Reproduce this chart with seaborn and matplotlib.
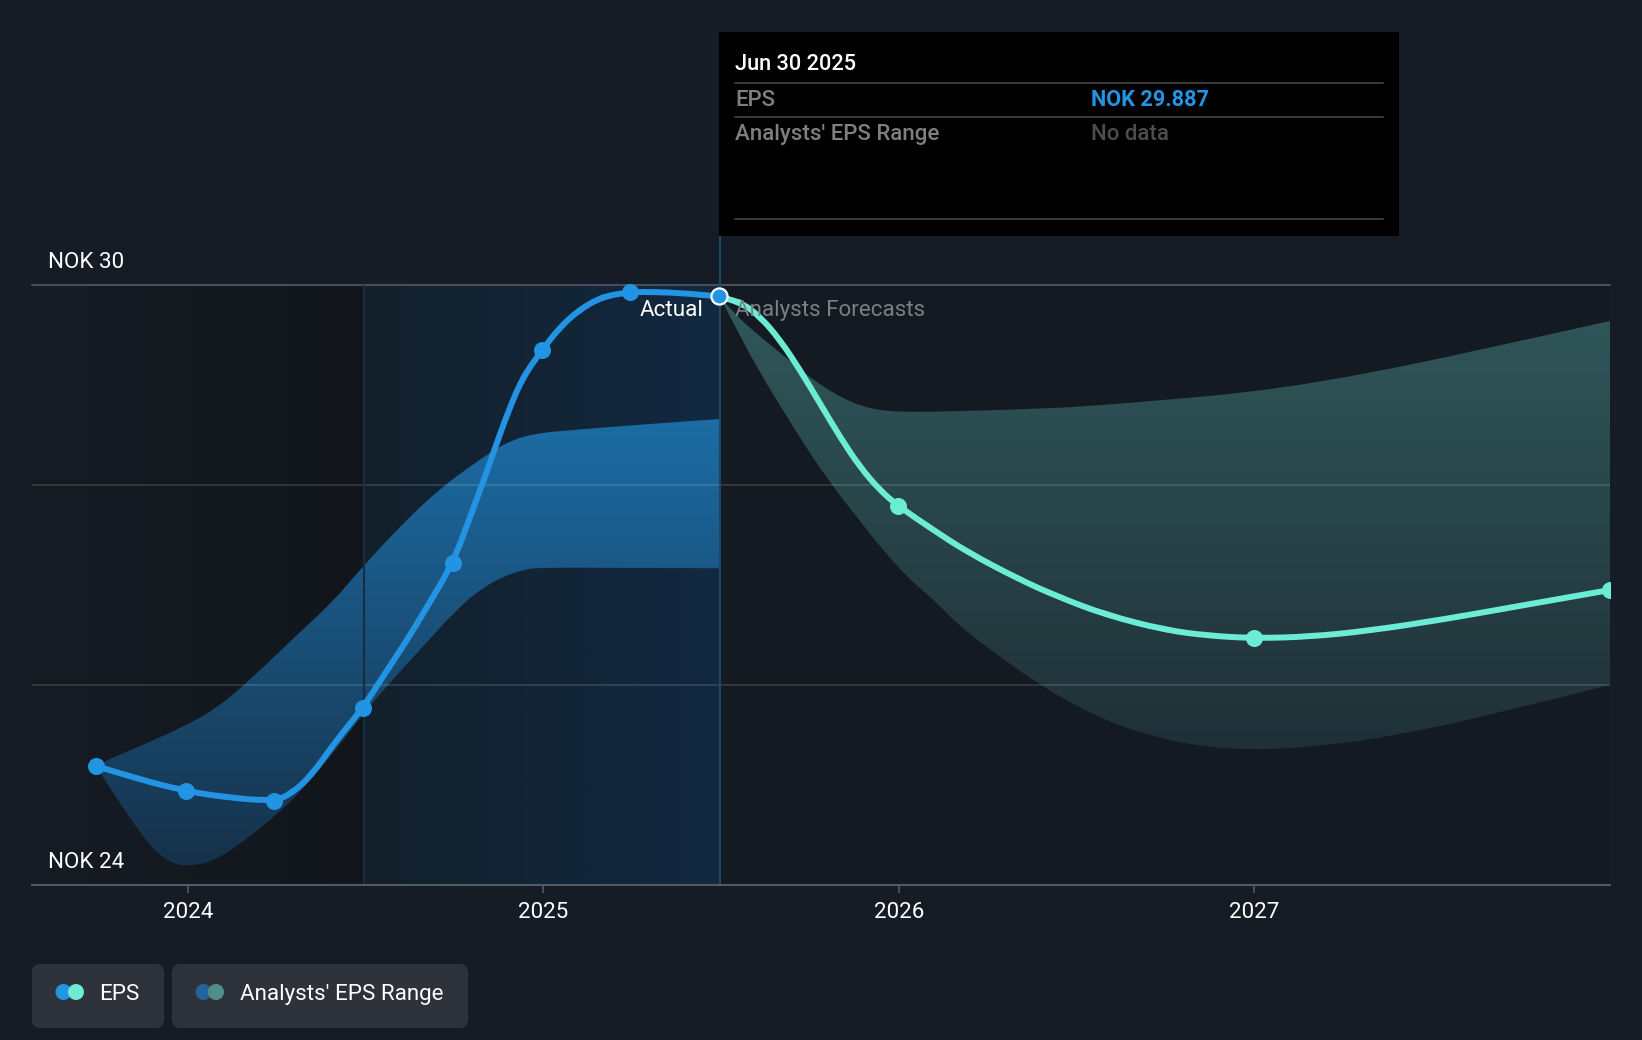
import numpy as np
import matplotlib
matplotlib.use('Agg')
import matplotlib.pyplot as plt
import matplotlib.colors as mcolors
from matplotlib.path import Path
from matplotlib.patches import Rectangle, Circle, FancyBboxPatch, PathPatch
import seaborn as sns

# values (decimal year, NOK)
past_years = [2023.742, 2023.863, 2023.994, 2024.106, 2024.243, 2024.293, 2024.349, 2024.415, 2024.493,
              2024.555, 2024.611, 2024.668, 2024.746, 2024.798, 2024.836, 2024.864, 2024.901, 2024.943,
              2024.997, 2025.044, 2025.100, 2025.166, 2025.244, 2025.316, 2025.400, 2025.493]
past_eps = [25.19, 25.057, 24.94, 24.877, 24.837, 24.917, 25.10, 25.433, 25.773,
            26.117, 26.417, 26.75, 27.22, 27.717, 28.083, 28.367, 28.733, 29.083,
            29.35, 29.567, 29.75, 29.883, 29.93, 29.93, 29.917, 29.887]

future_years = [2025.493, 2025.554, 2025.610, 2025.666, 2025.722, 2025.778, 2025.834, 2025.890, 2025.946,
                2025.997, 2026.097, 2026.191, 2026.332, 2026.447, 2026.583, 2026.748, 2026.870, 2027.0,
                2027.156, 2027.323, 2027.534, 2027.760, 2028.0]
future_eps = [29.887, 29.833, 29.683, 29.45, 29.15, 28.817, 28.483, 28.183, 27.95,
              27.793, 27.55, 27.333, 27.067, 26.883, 26.70, 26.55, 26.493, 26.467,
              26.483, 26.543, 26.657, 26.80, 26.95]

past_marker_years = [2023.742, 2023.994, 2024.243, 2024.493, 2024.746, 2024.997, 2025.244]
past_marker_eps = [25.19, 24.94, 24.837, 25.773, 27.22, 29.35, 29.93]
future_marker_years = [2025.997, 2027.0, 2028.0]
future_marker_eps = [27.793, 26.467, 26.95]
last_year = 2025.493
last_eps = 29.887

past_high_years = [2023.742, 2023.762, 2023.885, 2023.997, 2024.081, 2024.175, 2024.295, 2024.413, 2024.478,
                   2024.614, 2024.716, 2024.80, 2024.862, 2024.913, 2024.979, 2025.083, 2025.224, 2025.365, 2025.496]
past_high = [25.19, 25.233, 25.417, 25.60, 25.767, 26.05, 26.46, 26.85, 27.13,
             27.65, 27.983, 28.20, 28.35, 28.45, 28.517, 28.55, 28.59, 28.627, 28.66]
past_low_years = [2023.742, 2023.790, 2023.847, 2023.903, 2023.959, 2023.997, 2024.063, 2024.137, 2024.222,
                  2024.295, 2024.362, 2024.427, 2024.493, 2024.568, 2024.660, 2024.755, 2024.820, 2024.885,
                  2024.951, 2024.997, 2025.178, 2025.496]
past_low = [25.19, 24.92, 24.62, 24.35, 24.21, 24.19, 24.223, 24.383, 24.62,
            24.85, 25.12, 25.40, 25.71, 26.02, 26.38, 26.75, 26.95, 27.083,
            27.16, 27.173, 27.173, 27.167]

future_high_years = [2025.496, 2025.534, 2025.610, 2025.674, 2025.730, 2025.787, 2025.843, 2025.899, 2025.965,
                     2026.050, 2026.191, 2026.368, 2026.515, 2026.745, 2026.976, 2027.205, 2027.436, 2027.666, 2028.0]
future_high = [29.887, 29.72, 29.483, 29.30, 29.133, 28.983, 28.867, 28.783, 28.737,
               28.73, 28.74, 28.76, 28.783, 28.85, 28.923, 29.043, 29.20, 29.377, 29.64]
future_low_years = [2025.496, 2025.534, 2025.610, 2025.685, 2025.750, 2025.815, 2025.881, 2025.946, 2026.025,
                    2026.099, 2026.172, 2026.284, 2026.397, 2026.510, 2026.622, 2026.735, 2026.847, 2026.978,
                    2027.156, 2027.384, 2027.685, 2028.0]
future_low = [29.887, 29.62, 29.117, 28.683, 28.317, 27.983, 27.683, 27.39, 27.07,
              26.85, 26.583, 26.283, 26.0, 25.767, 25.59, 25.467, 25.39, 25.35,
              25.377, 25.483, 25.717, 26.0]

year_ticks = [2024, 2025, 2026, 2027]
grid_values = [26, 28]
y_min, y_max = 24, 30

BG = '#151c25'
BLUE = '#2394e3'
TEAL = '#6cebd5'
WIDTH, HEIGHT = 1642, 1040
FS = 16.1

sns.set_theme(style='dark')
plt.rcParams['font.family'] = ['Roboto', 'DejaVu Sans']

fig = plt.figure(figsize=(WIDTH / 100, HEIGHT / 100), dpi=100, facecolor=BG)
ax = fig.add_axes([32 / WIDTH, 1 - 885 / HEIGHT, (1610 - 32) / WIDTH, 600 / HEIGHT])
ax.set_facecolor('#141a22')
x_lim = (2023.562, 2028.0)


def gradient(c1, c2, horizontal=True, n=256):
    # RGB ramp for imshow
    a, b = np.array(mcolors.to_rgb(c1)), np.array(mcolors.to_rgb(c2))
    t = np.linspace(0, 1, n)[:, None]
    ramp = a + (b - a) * t
    return ramp[None, :, :] if horizontal else ramp[:, None, :]


def curve_segments(xs, ys):
    # the read points act as quadratic bezier controls, so the stroke bends instead of kinking
    pts = np.column_stack([xs, ys])
    verts, codes = [], []
    for i in range(1, len(pts) - 1):
        end = (pts[i] + pts[i + 1]) / 2 if i < len(pts) - 2 else pts[i + 1]
        verts += [pts[i], end]
        codes += [Path.CURVE3, Path.CURVE3]
    return pts[0], verts, codes


def curve_path(xs, ys):
    start, verts, codes = curve_segments(xs, ys)
    return Path([start] + verts, [Path.MOVETO] + codes)


def band_path(high_x, high_y, low_x, low_y):
    s1, v1, c1 = curve_segments(high_x, high_y)
    s2, v2, c2 = curve_segments(low_x[::-1], low_y[::-1])
    verts = [s1] + v1 + [s2] + v2 + [s1]
    codes = [Path.MOVETO] + c1 + [Path.LINETO] + c2 + [Path.CLOSEPOLY]
    return Path(verts, codes)


def faded_band(path, top, bottom, y_top, y_bottom):
    clip = PathPatch(path, transform=ax.transData, facecolor='none', edgecolor='none')
    ax.add_patch(clip)
    im = ax.imshow(gradient(top, bottom, horizontal=False),
                   extent=[x_lim[0], x_lim[1], y_bottom, y_top], aspect='auto', zorder=1)
    im.set_clip_path(clip)


# shaded periods behind the data
ax.imshow(gradient('#161c24', '#12161c'), extent=[x_lim[0], 2024.496, y_min, y_max], aspect='auto', zorder=0)
ax.imshow(gradient('#12202b', '#122941'), extent=[2024.496, 2025.496, y_min, y_max], aspect='auto', zorder=0)

# range bands with a vertical fade
faded_band(band_path(past_high_years, past_high, past_low_years, past_low), '#1c6da6', '#163149', 28.7, 24.15)
faded_band(band_path(future_high_years, future_high, future_low_years, future_low), '#30585a', '#1f3037', 29.9, 25.3)

# grid lines sit over the bands
for v in grid_values:
    ax.axhline(v, color='white', alpha=0.13, lw=1.4, zorder=2)
ax.axhline(y_max, color='#4a4f57', lw=1.5, zorder=2, clip_on=False)

ax.plot([2024.496, 2024.496], [y_min, y_max], color='#182d3f', lw=1.5, zorder=2)
ax.plot([2025.496, 2025.496], [y_min, y_max + 0.495], color='#1e4766', lw=1.5, zorder=2, clip_on=False)

sns.lineplot(x=past_years, y=past_eps, ax=ax, color=BLUE, lw=3.0, sort=False, estimator=None, errorbar=None, zorder=3)
sns.lineplot(x=future_years, y=future_eps, ax=ax, color=TEAL, lw=3.0, sort=False, estimator=None, errorbar=None, zorder=3)
# rounded stroke on top of the seaborn lines
for xs, ys, col in [(past_years, past_eps, BLUE), (future_years, future_eps, TEAL)]:
    ax.add_patch(PathPatch(curve_path(xs, ys), facecolor='none', edgecolor=col, lw=4.3, zorder=3, capstyle='round'))

sns.scatterplot(x=past_marker_years, y=past_marker_eps, ax=ax, color=BLUE, s=150, linewidth=0, zorder=4, clip_on=False)
sns.scatterplot(x=future_marker_years, y=future_marker_eps, ax=ax, color=TEAL, s=150, linewidth=0, zorder=4)
sns.scatterplot(x=[last_year], y=[last_eps], ax=ax, color=BLUE, s=135, edgecolor='white', linewidth=1.6, zorder=5, clip_on=False)

ax.set_xlim(*x_lim)
ax.set_ylim(y_min, y_max)
ax.set_xticks(year_ticks)
ax.set_xticklabels([str(y) for y in year_ticks], color='white', fontsize=FS)
ax.set_yticks([])
ax.tick_params(axis='x', length=5.5, width=1.5, color='#4a4f57', pad=6.5, bottom=True)
for side in ['top', 'left', 'right']:
    ax.spines[side].set_visible(False)
ax.spines['bottom'].set_color('#55585e')
ax.spines['bottom'].set_linewidth(1.5)
ax.grid(False)

# overlay in pixel coordinates for tooltip, labels and legend chips
ov = fig.add_axes([0, 0, 1, 1], zorder=10)
ov.set_xlim(0, WIDTH)
ov.set_ylim(HEIGHT, 0)
ov.axis('off')
ov.patch.set_alpha(0)

ov.text(48, 262.5, 'NOK 30', color='white', fontsize=FS, va='center')
ov.text(48, 862.5, 'NOK 24', color='white', fontsize=FS, va='center')
ov.text(703, 310.5, 'Actual', color='white', fontsize=FS, va='center', ha='right')
ov.text(735, 310.5, 'Analysts Forecasts', color='#7b7f86', fontsize=FS, va='center')

ov.add_patch(Rectangle((719, 32), 680, 204, color='black', lw=0))
for y in [82.7, 116.7, 219]:
    ov.plot([735, 1383], [y, y], color='#3c3c3c', lw=1.4)
ov.text(735, 64, 'Jun 30 2025', color='white', fontsize=15.7, va='center', fontweight='medium')
ov.text(735, 100, 'EPS', color='#7f7f7f', fontsize=16, va='center', fontweight='medium')
ov.text(1091, 100, 'NOK 29.887', color=BLUE, fontsize=15.7, va='center', fontweight='bold')
ov.text(735, 134.5, "Analysts' EPS Range", color='#7f7f7f', fontsize=16, va='center', fontweight='medium')
ov.text(1091, 134, 'No data', color='#4d4d4d', fontsize=16, va='center', fontweight='medium')

chips = [(32, 132, 'EPS', 99, '#2394e3', '#6eead6', 63.5),
         (172, 296, "Analysts' EPS Range", 240, '#21659a', '#4f8f87', 203.5)]
for x0, w, label, tx, c1, c2, cx in chips:
    ov.add_patch(FancyBboxPatch((x0 + 8, 972), w - 16, 48, boxstyle='round,pad=8,rounding_size=8',
                                facecolor='#2d323b', edgecolor='none'))
    ov.add_patch(Circle((cx, 992), 8, color=c1, lw=0))
    ov.add_patch(Circle((cx + 12.5, 992), 8, color=c2, lw=0))
    ov.text(tx, 994.5, label, color='white', fontsize=FS, va='center')

fig.savefig('out.png', dpi=100, facecolor=BG)
plt.close(fig)
